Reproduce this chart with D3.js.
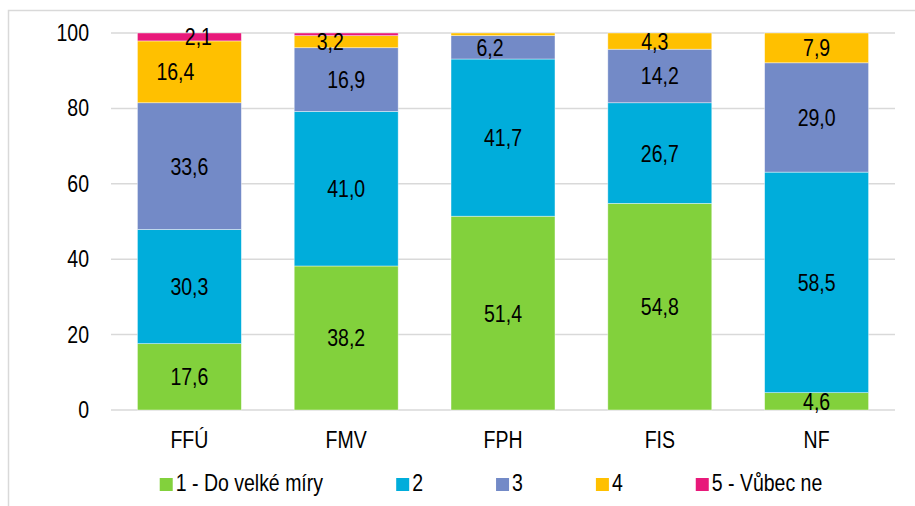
<!DOCTYPE html>
<html>
<head>
<meta charset="utf-8">
<script src="https://cdn.jsdelivr.net/npm/d3@7"></script>
<style>
  body { margin: 0; background: #fff; }
  svg text { font-family: "Liberation Sans Narrow", "Arial Narrow", "Liberation Sans", Arial, sans-serif; fill: #000; }
</style>
</head>
<body>
<div id="chart"></div>
<script>
(function(){

	// data
	var categories = ["FFÚ", "FMV", "FPH", "FIS", "NF"];
	var seriesNames = ["1 - Do velké míry", "2", "3", "4", "5 - Vůbec ne"];
	var s1 = [17.6, 38.2, 51.4, 54.8, 4.6];
	var s2 = [30.3, 41.0, 41.7, 26.7, 58.5];
	var s3 = [33.6, 16.9, 6.2, 14.2, 29.0];
	var s4 = [16.4, 3.2, 0.7, 4.3, 7.9];
	var s5 = [2.1, 0.7, 0, 0, 0];
	var yTicks = [0, 20, 40, 60, 80, 100];

	var colors = ["#82D13C", "#00ADDB", "#738AC7", "#FFC000", "#E8197A"];

	// a few labels were moved sideways by hand in the original
	var labelNudge = { "FFÚ|3": -14, "FFÚ|4": 9, "FMV|3": -16, "FPH|2": -13, "FIS|3": -5 };

	var width = 915;
	var height = 506;
	var fontSize = "23.5px";
	var sx = 0.83;
	var squeeze = "scale(" + sx + ",1)"; // no narrow font installed, so squeeze the regular one

	var svg = d3.select("div#chart")
		.append("svg")
		.attr("width", width)
		.attr("height", height);

	svg.append("rect")
		.attr("width", width).attr("height", height)
		.attr("fill", "#fff");

	// outer chart frame
	svg.append("rect")
		.attr("x", 8.5).attr("y", 10.5)
		.attr("width", width + 20).attr("height", height + 20)
		.attr("fill", "none")
		.attr("stroke", "#d9d9d9")
		.attr("stroke-width", 1.5);

	var rows = categories.map(function(c, i){
		return { cat: c, 0: s1[i], 1: s2[i], 2: s3[i], 3: s4[i], 4: s5[i] };
	});

	var x = d3.scaleBand()
		.domain(categories)
		.range([111, 895])
		.paddingInner(0.337)
		.paddingOuter(0.1685);

	var y = d3.scaleLinear()
		.domain([0, 100])
		.range([410, 33]);

	// gridlines
	svg.append("g")
		.selectAll("line")
		.data(yTicks)
		.enter().append("line")
		.attr("x1", 111).attr("x2", 895)
		.attr("y1", function(d){ return y(d); })
		.attr("y2", function(d){ return y(d); })
		.attr("stroke", "#d9d9d9")
		.attr("stroke-width", 1.5);

	// y axis labels
	var yAxis = d3.axisLeft(y).tickValues(yTicks).tickSize(0).tickPadding(0);
	var ya = svg.append("g")
		.attr("transform", "translate(89,0)")
		.call(yAxis);
	ya.select(".domain").remove();

	// x axis labels
	var xAxis = d3.axisBottom(x).tickSize(0).tickPadding(0);
	var xa = svg.append("g")
		.attr("transform", "translate(0,431)")
		.call(xAxis);
	xa.select(".domain").remove();

	[ya, xa].forEach(function(a){
		a.attr("font-family", null).attr("font-size", null);
		a.selectAll("text")
			.attr("font-size", fontSize)
			.attr("transform", squeeze);
	});

	var stack = d3.stack().keys([0, 1, 2, 3, 4]);
	var layers = stack(rows);

	var fmt = d3.format(".1f");

	var layer = svg.selectAll(".layer")
		.data(layers)
		.enter().append("g")
		.attr("class", "layer")
		.attr("fill", function(d){ return colors[d.key]; });

	layer.selectAll("rect")
		.data(function(d){ return d; })
		.enter().append("rect")
		.attr("x", function(d){ return x(d.data.cat); })
		.attr("width", x.bandwidth())
		.attr("y", function(d){ return y(d[1]); })
		.attr("height", function(d){ return y(d[0]) - y(d[1]); })
		.attr("stroke", "rgba(255,255,255,0.55)")
		.attr("stroke-width", 0.75);

	// value labels
	layers.forEach(function(l){
		svg.append("g")
			.selectAll("text")
			.data(l.filter(function(d){ return d[1] - d[0] >= 1; }))
			.enter().append("text")
			.attr("transform", function(d){
				var n = labelNudge[d.data.cat + "|" + l.key] || 0;
				var cx = x(d.data.cat) + x.bandwidth() / 2 + n;
				var cy = y((d[0] + d[1]) / 2);
				return "translate(" + cx + "," + cy + ") " + squeeze;
			})
			.attr("dy", "0.36em")
			.attr("text-anchor", "middle")
			.attr("font-size", fontSize)
			.text(function(d){ return fmt(d[1] - d[0]).replace(".", ","); });
	});

	// legend
	var legend = svg.append("g");
	var items = legend.selectAll("g")
		.data(seriesNames)
		.enter().append("g");
	items.append("rect")
		.attr("width", 13).attr("height", 13)
		.attr("y", 478)
		.attr("fill", function(d, i){ return colors[i]; });
	items.append("text")
		.attr("transform", "translate(16,491) " + squeeze)
		.attr("font-size", fontSize)
		.text(function(d){ return d; });

	var pos = 0;
	items.each(function(){
		var g = d3.select(this);
		g.attr("transform", "translate(" + pos + ",0)");
		pos += 16 + g.select("text").node().getBBox().width * sx + 73;
	});
	var total = pos - 73;
	legend.attr("transform", "translate(" + (491 - total / 2) + ",0)");

})();
</script>
</body>
</html>
